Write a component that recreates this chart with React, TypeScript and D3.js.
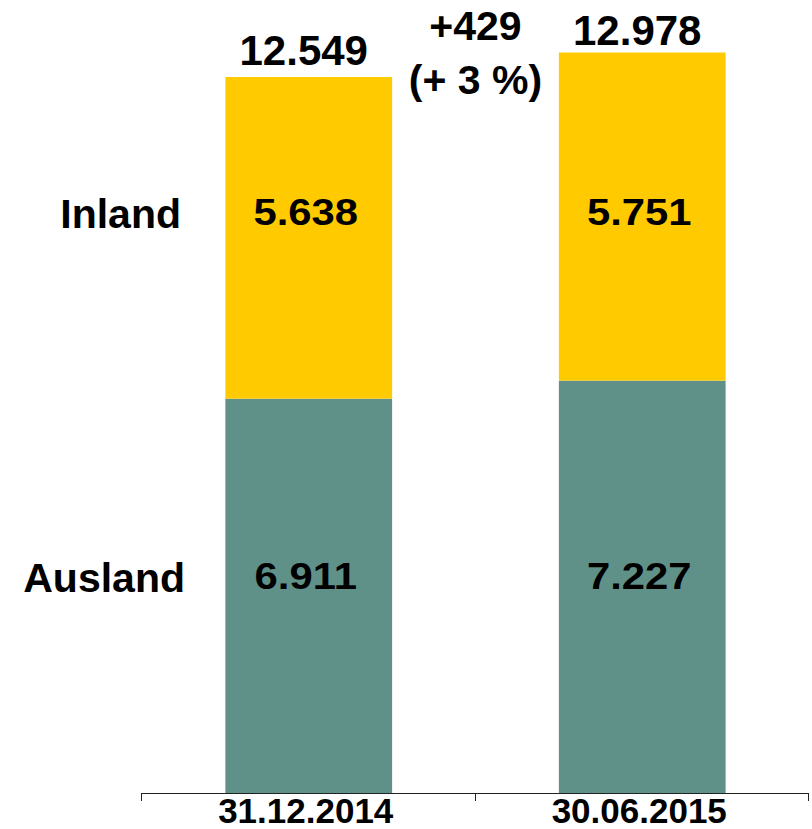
import React, { useRef, useEffect } from 'react';
import * as d3 from 'd3';

const categories = ['31.12.2014', '30.06.2015'];
const seriesNames = ['Ausland', 'Inland'];
const ausland = [6911, 7227];
const inland = [5638, 5751];
const totalLabels = ['12.549', '12.978'];
const valueLabels: { [key: string]: string[] } = {
    Ausland: ['6.911', '7.227'],
    Inland: ['5.638', '5.751'],
};
const deltaLines = ['+429', '(+ 3 %)'];

const colors: { [key: string]: string } = {
    Ausland: '#5f9189',
    Inland: '#ffca00',
};

const App: React.FC = () => {
    const svgRef = useRef<SVGSVGElement | null>(null);
    const width = 812;
    const height = 829;

    useEffect(() => {
        const svg = d3.select(svgRef.current);
        svg.selectAll('*').remove();

        const font = '"Liberation Sans", Arial, sans-serif';
        const x0 = 141;
        const x1 = 808;
        const baseY = 793;

        const x = d3.scaleBand<string>()
            .domain(categories)
            .range([x0 + 1, x1 + 1])
            .paddingInner(0.5)
            .paddingOuter(0.25);

        const y = d3.scaleLinear()
            .domain([0, 12549])
            .range([baseY, 77]);

        const rows = categories.map((c, i) => ({ cat: c, Ausland: ausland[i], Inland: inland[i] }));
        const stacked = d3.stack<any>().keys(seriesNames)(rows);

        // bars
        stacked.forEach(layer => {
            svg.append('g')
                .selectAll('rect')
                .data(layer)
                .enter()
                .append('rect')
                .attr('x', d => x(d.data.cat)!)
                .attr('width', x.bandwidth())
                .attr('y', d => y(d[1]))
                .attr('height', d => y(d[0]) - y(d[1]))
                .attr('fill', colors[layer.key]);
        });

        // value labels inside segments, aligned per row
        stacked.forEach(layer => {
            const mids = layer.map(d => (y(d[0]) + y(d[1])) / 2);
            const rowY = d3.mean(mids)! - 2;
            layer.forEach((d, i) => {
                const cx = x(d.data.cat)! + x.bandwidth() / 2 - 3;
                svg.append('text')
                    .attr('transform', `translate(${cx},${rowY}) scale(1.13,1)`)
                    .attr('text-anchor', 'middle')
                    .style('font-family', font)
                    .style('font-weight', 'bold')
                    .style('font-size', '37px')
                    .attr('fill', '#000')
                    .text(valueLabels[layer.key][i]);
            });
            // row label on the left
            svg.append('text')
                .attr('x', layer.key === 'Inland' ? 181 : 185)
                .attr('y', rowY + 3)
                .attr('text-anchor', 'end')
                .style('font-family', font)
                .style('font-weight', 'bold')
                .style('font-size', '41px')
                .attr('fill', '#000')
                .text(layer.key);
        });

        // totals above bars
        const top = stacked[stacked.length - 1];
        top.forEach((d, i) => {
            svg.append('text')
                .attr('x', x(d.data.cat)! + x.bandwidth() / 2 - 5)
                .attr('y', y(d[1]) - (i === 0 ? 12 : 8))
                .attr('text-anchor', 'middle')
                .style('font-family', font)
                .style('font-weight', 'bold')
                .style('font-size', '42px')
                .attr('fill', '#000')
                .text(totalLabels[i]);
        });

        // delta annotation
        const midX = (x0 + x1) / 2 + 1;
        deltaLines.forEach((t, i) => {
            svg.append('text')
                .attr('x', midX)
                .attr('y', i === 0 ? 40 : 94)
                .attr('text-anchor', 'middle')
                .style('font-family', font)
                .style('font-weight', 'bold')
                .style('font-size', '41px')
                .attr('fill', '#000')
                .text(t);
        });

        // axis
        const axis = svg.append('g');
        axis.append('line')
            .attr('x1', x0).attr('x2', x1)
            .attr('y1', baseY + 0.5).attr('y2', baseY + 0.5)
            .attr('stroke', '#222').attr('stroke-width', 1);
        const tickXs = [x0, (x0 + x1) / 2, x1];
        tickXs.forEach(tx => {
            axis.append('line')
                .attr('x1', Math.round(tx) + 0.5).attr('x2', Math.round(tx) + 0.5)
                .attr('y1', baseY).attr('y2', baseY + 8)
                .attr('stroke', '#222').attr('stroke-width', 1);
        });
        categories.forEach(c => {
            axis.append('text')
                .attr('x', x(c)! + x.bandwidth() / 2 - 3)
                .attr('y', 823)
                .attr('text-anchor', 'middle')
                .style('font-family', font)
                .style('font-weight', 'bold')
                .style('font-size', '35px')
                .attr('fill', '#000')
                .text(c);
        });
    }, []);

    return (
        <div style={{ position: 'absolute', left: 0, top: 0 }}>
            <svg ref={svgRef} width={width} height={height} style={{ display: 'block', background: '#fff' }}></svg>
        </div>
    );
};

export default App;
